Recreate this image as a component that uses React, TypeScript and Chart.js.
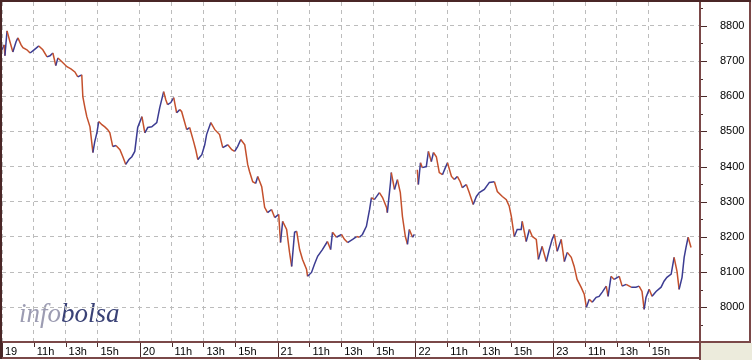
import { useEffect, useRef } from "react";
import { Chart, registerables } from "chart.js";

Chart.register(...registerables);

// Trading minutes counted from the open of day 19 (each session ≈ 520 min)
const minutes = [
  0, 8, 11, 19, 30, 41, 53, 60, 72, 79, 94, 106, 121, 139, 154, 170, 181, 192, 203, 211, 226, 245, 260, 275, 286, 301, 305, 313, 320, 332, 343, 350, 358, 365, 377, 388, 399, 407, 418, 430, 445, 456, 467, 479, 490, 501, 512,
  528, 539, 550, 565, 584, 595, 610, 618, 625, 637, 648, 659, 671, 678, 697, 708, 723, 731, 739, 754, 765, 772, 788, 803, 821, 833, 852, 867, 878, 889, 901, 916, 927, 934, 946, 957, 965, 980, 991, 1002, 1017, 1029,
  1044, 1051, 1059, 1074, 1085, 1093, 1104, 1112, 1123, 1134, 1149, 1153, 1168, 1179, 1191, 1209, 1228, 1240, 1247, 1262, 1281, 1292, 1304, 1323, 1338, 1349, 1360, 1375, 1387, 1394, 1405, 1424, 1436, 1451, 1454, 1466, 1469, 1481, 1492, 1503, 1511, 1522, 1530, 1537, 1549, 1556,
  1561,
  1567, 1571, 1579, 1586, 1601, 1609, 1620, 1628, 1639, 1650, 1662, 1673, 1681, 1696, 1707, 1718, 1729, 1737, 1752, 1763, 1778, 1790, 1801, 1820, 1839, 1858, 1869, 1888, 1903, 1914, 1922, 1933, 1944, 1959, 1963, 1978, 1990, 2001, 2016, 2024, 2038, 2054, 2065, 2076,
  2084, 2095, 2110, 2122, 2133, 2148, 2159, 2170, 2185, 2197, 2205, 2216, 2227, 2242, 2253, 2265, 2280, 2287, 2298, 2310, 2329, 2340, 2355, 2374, 2392, 2404, 2415, 2423, 2430, 2442, 2453, 2468, 2487, 2498, 2509, 2525, 2536, 2547, 2555, 2566, 2574, 2581, 2589, 2600,
];

const prices: (number | null)[] = [
  8732, 8746, 8715, 8786, 8755, 8726, 8755, 8766, 8746, 8738, 8732, 8723, 8732, 8743, 8732, 8712, 8715, 8723, 8687, 8709, 8698, 8684, 8678, 8669, 8655, 8661, 8599, 8567, 8542, 8513, 8440, 8471, 8496, 8528, 8519, 8513, 8505, 8496, 8457, 8460, 8448, 8428, 8406, 8420, 8428, 8443, 8511,
  8542, 8496, 8511, 8513, 8525, 8567, 8613, 8590, 8576, 8582, 8596, 8553, 8562, 8556, 8505, 8511, 8471, 8448, 8420, 8434, 8462, 8491, 8525, 8505, 8491, 8454, 8462, 8448, 8443, 8457, 8477, 8462, 8406, 8386, 8357, 8352, 8372, 8343, 8284, 8269, 8278, 8255,
  8264, 8184, 8244, 8221, 8156, 8116, 8213, 8216, 8164, 8136, 8108, 8088, 8099, 8122, 8145, 8164, 8187, 8164, 8213, 8199, 8207, 8193, 8184, 8193, 8201, 8199, 8207, 8230, 8278, 8312, 8306, 8326, 8312, 8284, 8269, 8355, 8383, 8335, 8363, 8326, 8258, 8201, 8179, 8221, 8199, 8207,
  null,
  8391, 8349, 8411, 8397, 8400, 8443, 8414, 8440, 8428, 8383, 8377, 8397, 8411, 8372, 8363, 8372, 8357, 8340, 8349, 8326, 8292, 8315, 8326, 8335, 8355, 8357, 8329, 8315, 8306, 8287, 8258, 8201, 8221, 8221, 8244, 8187, 8221, 8201, 8193, 8136, 8173, 8130, 8164, 8193,
  8207, 8159, 8193, 8130, 8156, 8142, 8116, 8079, 8057, 8037, 8000, 8023, 8014, 8028, 8031, 8043, 8060, 8031, 8088, 8079, 8088, 8060, 8065, 8057, 8057, 8060, 8045, 7994, 8028, 8051, 8031, 8045, 8057, 8074, 8085, 8094, 8142, 8102, 8051, 8085, 8142, 8170, 8199, 8170,
];

const xTickMinutes = [0, 120, 240, 360, 520, 640, 760, 880, 1040, 1160, 1280, 1400, 1560, 1680, 1800, 1920, 2080, 2200, 2320, 2440];
const xTickLabels = ["19", "11h", "13h", "15h", "20", "11h", "13h", "15h", "21", "11h", "13h", "15h", "22", "11h", "13h", "15h", "23", "11h", "13h", "15h"];
const dayStarts = [0, 520, 1040, 1560, 2080];
const yTickValues = [8000, 8100, 8200, 8300, 8400, 8500, 8600, 8700, 8800];
const yMinorValues = [7950, 8050, 8150, 8250, 8350, 8450, 8550, 8650, 8750, 8850];

const X_MAX = 2630;
const Y_MIN = 7904;
const Y_MAX = 8868;

const UP = "#3c3c92";
const DOWN = "#c4502c";
const FRAME = "#7a4848";

const framePlugin = {
  id: "frame",
  beforeDraw(chart: any) {
    const { ctx, chartArea: a, width, height } = chart;
    ctx.save();
    ctx.fillStyle = "#ffffff";
    ctx.fillRect(0, 0, width, height);
    ctx.fillStyle = "#ecebdc";
    ctx.fillRect(a.right + 2, a.bottom + 2, width - a.right - 2, height - a.bottom - 2);
    ctx.font = 'italic 27px "Liberation Serif"';
    ctx.textBaseline = "alphabetic";
    ctx.textAlign = "left";
    const wx = a.left + 17;
    const wy = a.bottom - 19;
    ctx.fillStyle = "#9c9cb2";
    ctx.fillText("info", wx, wy);
    const w = ctx.measureText("info").width;
    ctx.fillStyle = "#3a4276";
    ctx.fillText("bolsa", wx + w, wy);
    ctx.restore();
  },
  afterDraw(chart: any) {
    const { ctx, chartArea: a, width, height, scales } = chart;
    const xs = scales.x;
    const ys = scales.y;
    ctx.save();
    // tick marks on value axis
    ctx.strokeStyle = "#4a2a2a";
    ctx.lineWidth = 1;
    ctx.beginPath();
    yTickValues.forEach((v) => {
      const p = Math.round(ys.getPixelForValue(v)) + 0.5;
      ctx.moveTo(a.right + 2, p);
      ctx.lineTo(a.right + 8, p);
    });
    yMinorValues.forEach((v) => {
      const p = Math.round(ys.getPixelForValue(v)) + 0.5;
      ctx.moveTo(a.right + 2, p);
      ctx.lineTo(a.right + 4, p);
    });
    // tick marks on time axis
    xTickMinutes.forEach((v) => {
      const p = Math.round(xs.getPixelForValue(v)) + 0.5;
      if (dayStarts.includes(v)) {
        ctx.moveTo(p, a.bottom + 2);
        ctx.lineTo(p, height - 2);
      } else {
        ctx.moveTo(p, a.bottom + 2);
        ctx.lineTo(p, a.bottom + 6);
      }
    });
    ctx.stroke();

    // frames
    ctx.lineWidth = 2;
    ctx.strokeStyle = FRAME;
    ctx.beginPath();
    ctx.moveTo(a.right + 1, 0);
    ctx.lineTo(a.right + 1, height);
    ctx.moveTo(0, a.bottom + 1);
    ctx.lineTo(width - 1, a.bottom + 1);
    ctx.moveTo(width - 2, 0);
    ctx.lineTo(width - 2, a.bottom + 2);
    ctx.moveTo(0, height - 2);
    ctx.lineTo(a.right + 2, height - 2);
    ctx.stroke();

    ctx.strokeStyle = "#4a2626";
    ctx.beginPath();
    ctx.moveTo(1, 0);
    ctx.lineTo(1, height - 1);
    ctx.moveTo(0, 1);
    ctx.lineTo(width - 1, 1);
    ctx.stroke();
    ctx.restore();
  },
};

export default function App() {
  const canvasRef = useRef<HTMLCanvasElement | null>(null);

  useEffect(() => {
    document.body.style.margin = "0";
    const canvas = canvasRef.current;
    if (!canvas) return;
    const points = minutes.map((m, i) => ({ x: m, y: prices[i] }));
    const chart = new Chart(canvas, {
      type: "line",
      data: {
        datasets: [
          {
            data: points as any,
            borderWidth: 1.5,
            pointRadius: 0,
            tension: 0,
            spanGaps: false,
            borderColor: DOWN,
            segment: {
              borderColor: (c: any) => (c.p1.parsed.y >= c.p0.parsed.y ? UP : DOWN),
            },
          },
        ],
      },
      options: {
        animation: false,
        responsive: false,
        maintainAspectRatio: false,
        layout: { padding: { left: 2, top: 2, right: 0, bottom: 0 } },
        plugins: { legend: { display: false }, tooltip: { enabled: false } },
        scales: {
          x: {
            type: "linear",
            position: "bottom",
            min: 0,
            max: X_MAX,
            afterFit: (s: any) => {
              s.height = 19;
              s.paddingLeft = 0;
              s.paddingRight = 0;
              s.paddingTop = 0;
              s.paddingBottom = 0;
            },
            afterBuildTicks: (s: any) => {
              s.ticks = xTickMinutes.map((v) => ({ value: v }));
            },
            grid: { color: "#bcbcbc", lineWidth: 1, drawTicks: false },
            border: { display: false, dash: [4, 4] },
            ticks: {
              autoSkip: false,
              maxRotation: 0,
              minRotation: 0,
              align: "start",
              labelOffset: 3,
              padding: 4,
              color: "#000000",
              font: { family: '"Liberation Sans", Arial, sans-serif', size: 11 },
              callback: (v: any) => {
                const i = xTickMinutes.indexOf(Number(v));
                return i >= 0 ? xTickLabels[i] : "";
              },
            },
          },
          y: {
            type: "linear",
            position: "right",
            min: Y_MIN,
            max: Y_MAX,
            afterFit: (s: any) => {
              s.width = 53;
              s.paddingTop = 0;
              s.paddingBottom = 0;
              s.paddingLeft = 0;
              s.paddingRight = 0;
            },
            afterBuildTicks: (s: any) => {
              s.ticks = yTickValues.map((v) => ({ value: v }));
            },
            grid: { color: "#bcbcbc", lineWidth: 1, drawTicks: false },
            border: { display: false, dash: [4, 4] },
            ticks: {
              padding: 21,
              crossAlign: "near",
              color: "#000000",
              font: { family: '"Liberation Sans", Arial, sans-serif', size: 11 },
              callback: (v: any) => String(v),
            },
          },
        },
      },
      plugins: [framePlugin],
    } as any);
    return () => chart.destroy();
  }, []);

  return <canvas ref={canvasRef} width={752} height={360} style={{ display: "block" }} />;
}
